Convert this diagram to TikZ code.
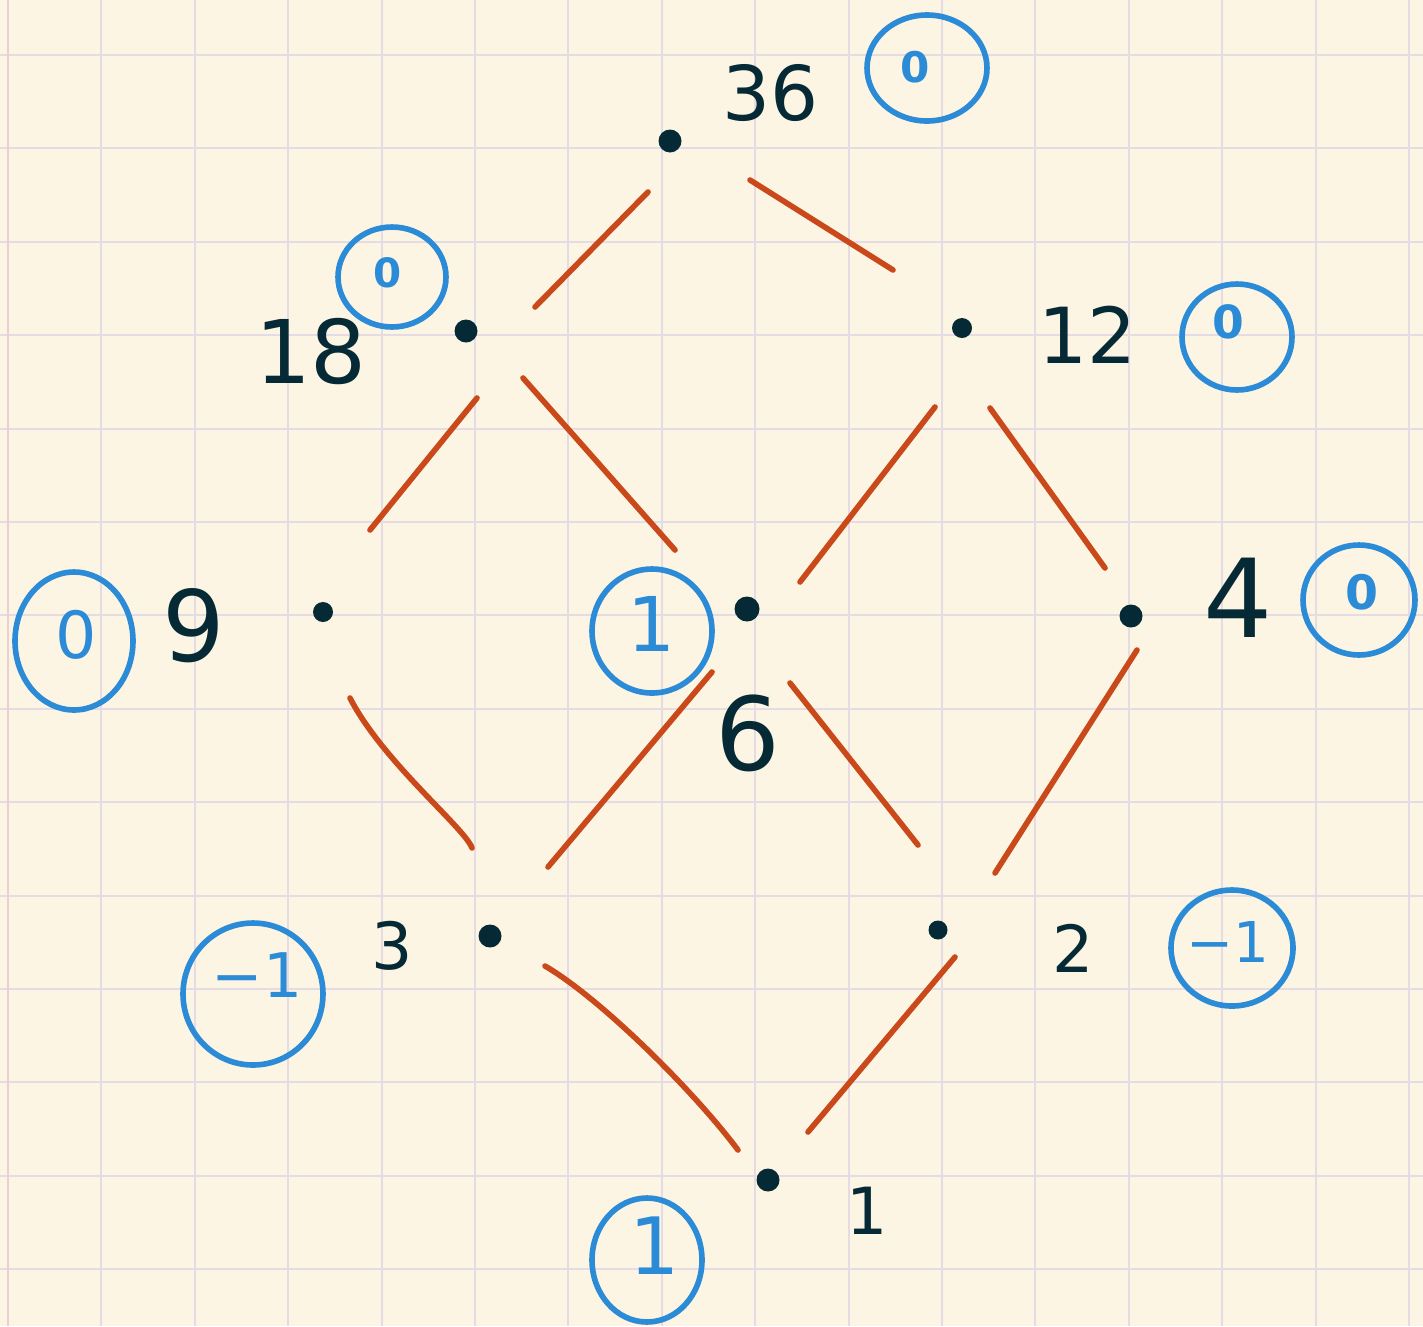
\documentclass[tikz,border=0pt]{standalone}
\usepackage{fontspec}
\setmainfont{DejaVu Sans}
\usetikzlibrary{calc,shapes.geometric}
\definecolor{paper}{HTML}{FDF5E3}
\definecolor{gridc}{HTML}{E4DBE5}
\definecolor{marginc}{HTML}{EACFD3}
\definecolor{edgec}{HTML}{C9491A}
\definecolor{bluec}{HTML}{2B8BD6}
\definecolor{inkc}{HTML}{052A35}
\begin{document}
\begin{tikzpicture}[x=0.02cm,y=-0.02cm,
  gridline/.style={draw=gridc,line width=1.1pt},
  dotnode/.style={circle,fill=inkc,inner sep=0pt,minimum size=0.46cm},
  lab/.style={text=inkc,inner sep=0pt},
  ring/.style={ellipse,draw=bluec,line width=3.2pt,inner sep=0pt},
  mu/.style={text=bluec,inner sep=0pt},
  edge/.style={draw=edgec,line width=3.2pt,line cap=round}]
\fill[paper] (0,0) rectangle (1423,1326);
\useasboundingbox (0,0) rectangle (1423,1326);
\foreach \i in {1,...,15} \draw[gridline] ({8+93.4*\i},0) -- ({8+93.4*\i},1326);
\foreach \j in {0,...,13} \draw[gridline] (0,{55+93.4*\j}) -- (1423,{55+93.4*\j});
\draw[draw=marginc,line width=1.1pt] (8,0) -- (8,1326);

% divisor dots
\node[dotnode] (n36) at (670,141) {};
\node[dotnode] (n18) at (466,331) {};
\node[dotnode,minimum size=0.4cm] (n12) at (962,328) {};
\node[dotnode,minimum size=0.4cm] (n9) at (323,612) {};
\node[dotnode,minimum size=0.5cm] (n6) at (747,609) {};
\node[dotnode] (n4) at (1131,616) {};
\node[dotnode] (n3) at (490,936) {};
\node[dotnode,minimum size=0.38cm] (n2) at (938,930) {};
\node[dotnode] (n1) at (768,1180) {};

% labels
\node[lab,font=\fontsize{43}{43}\selectfont] (l36) at (771,93) {36};
\node[lab,font=\fontsize{50}{50}\selectfont] (l18) at (311,352) {18};
\node[lab,font=\fontsize{44}{44}\selectfont] (l12) at (1088,335) {12};
\node[lab,font=\fontsize{56}{56}\selectfont] (l9) at (194,626) {9};
\node[lab,font=\fontsize{58}{58}\selectfont] (l6) at (748,733) {6};
\node[lab,font=\fontsize{62}{62}\selectfont] (l4) at (1238,598) {4};
\node[lab,font=\fontsize{37}{37}\selectfont] (l3) at (392,946) {3};
\node[lab,font=\fontsize{37}{37}\selectfont] (l2) at (1073,948) {2};
\node[lab,font=\fontsize{37}{37}\selectfont] (l1) at (867,1211) {1};

% Moebius values
\node[ring,minimum width=2.4cm,minimum height=2.12cm] (r36) at (927,68) {};
\node[mu,font=\bfseries\fontsize{24}{24}\selectfont] (t36) at (915,67) {0};
\node[ring,minimum width=2.16cm,minimum height=2.0cm] (r18) at (392,277) {};
\node[mu,font=\bfseries\fontsize{23}{23}\selectfont] (t18) at (388,273) {0};
\node[ring,minimum width=2.2cm,minimum height=2.12cm] (r12) at (1237,337) {};
\node[mu,font=\bfseries\fontsize{26}{26}\selectfont] (t12) at (1228,322) {0};
\node[ring,minimum width=2.36cm,minimum height=2.76cm] (r9) at (74,641) {};
\node[mu,font=\fontsize{37}{37}\selectfont] (t9) at (76,635) {0};
\node[ring,minimum width=2.4cm,minimum height=2.48cm] (r6) at (652,631) {};
\node[mu,font=\fontsize{43}{43}\selectfont] (t6) at (652,624) {1};
\node[ring,minimum width=2.24cm,minimum height=2.2cm] (r4) at (1359,600) {};
\node[mu,font=\bfseries\fontsize{27}{27}\selectfont] (t4) at (1362,592) {0};
\node[ring,minimum width=2.8cm,minimum height=2.84cm] (r3) at (253,994) {};
\node[mu,font=\fontsize{35}{35}\selectfont] (t3) at (257,975) {−1};
\node[ring,minimum width=2.44cm,minimum height=2.32cm] (r2) at (1232,948) {};
\node[mu,font=\fontsize{32}{32}\selectfont] (t2) at (1228,942) {−1};
\node[ring,minimum width=2.2cm,minimum height=2.48cm] (r1) at (647,1260) {};
\node[mu,font=\fontsize{45}{45}\selectfont] (t1) at (655,1246) {1};

% Hasse diagram edges
\draw[edge] ($(n36)+(-22,51)$) -- ($(n18)+(69,-24)$);
\draw[edge] ($(n36)+(80,39)$) -- ($(n12)+(-69,-58)$);
\draw[edge] ($(n18)+(11,67)$) -- ($(n9)+(47,-82)$);
\draw[edge] ($(n18)+(57,47)$) -- ($(n6)+(-72,-59)$);
\draw[edge] ($(n12)+(-27,79)$) -- ($(n6)+(53,-27)$);
\draw[edge] ($(n12)+(28,80)$) -- ($(n4)+(-26,-48)$);
\draw[edge] ($(n9)+(27,86)$) .. controls ($(n9)+(60,150)$) and ($(n3)+(-25,-108)$) .. ($(n3)+(-18,-88)$);
\draw[edge] ($(n6)+(-35,63)$) -- ($(n3)+(58,-69)$);
\draw[edge] ($(n6)+(43,74)$) -- ($(n2)+(-20,-85)$);
\draw[edge] ($(n4)+(6,34)$) -- ($(n2)+(57,-57)$);
\draw[edge] ($(n3)+(55,30)$) .. controls ($(n3)+(110,62)$) and ($(n1)+(-75,-90)$) .. ($(n1)+(-30,-30)$);
\draw[edge] ($(n2)+(17,27)$) -- ($(n1)+(40,-48)$);
\end{tikzpicture}
\end{document}
